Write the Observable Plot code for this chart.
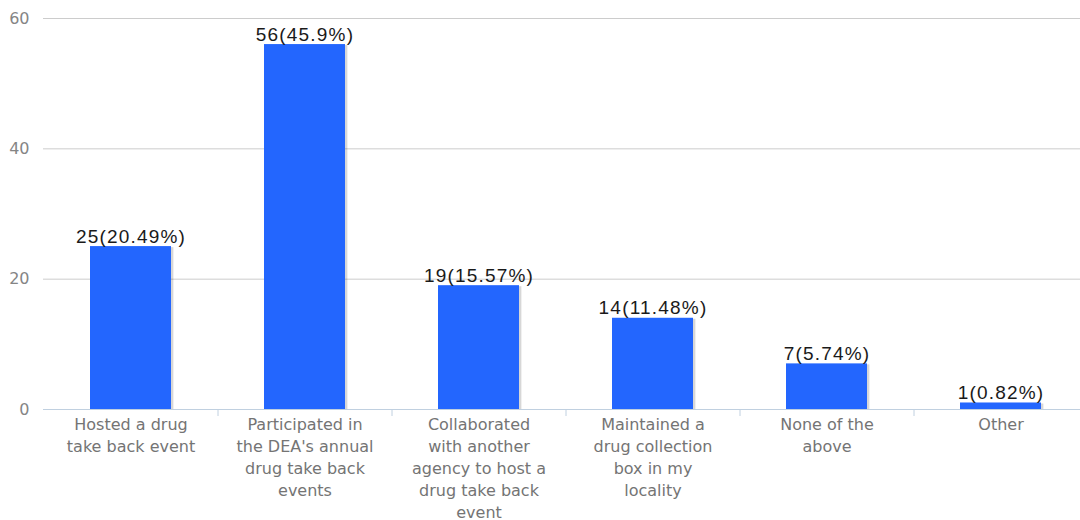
<!DOCTYPE html>
<html>
<head>
<meta charset="utf-8">
<script src="https://cdn.jsdelivr.net/npm/d3@7"></script>
<script src="https://cdn.jsdelivr.net/npm/@observablehq/plot@0.6"></script>
<style>
  html, body { margin: 0; padding: 0; background: #fff; }
  g[aria-description="values"] text { letter-spacing: 1.2px; }
</style>
</head>
<body>
<div id="chart"></div>
<script>
const categories = [
  "Hosted a drug\ntake back event",
  "Participated in\nthe DEA's annual\ndrug take back\nevents",
  "Collaborated\nwith another\nagency to host a\ndrug take back\nevent",
  "Maintained a\ndrug collection\nbox in my\nlocality",
  "None of the\nabove",
  "Other"
];
const counts = [25, 56, 19, 14, 7, 1];
const percents = ["20.49%", "45.9%", "15.57%", "11.48%", "5.74%", "0.82%"];
const yTicks = [0, 20, 40, 60];

const data = categories.map((c, i) => ({category: c, count: counts[i], pct: percents[i]}));

const xRange = [43, 1087];
const halfStep = (xRange[1] - xRange[0]) / categories.length / 2;

const chart = Plot.plot({
  width: 1080,
  height: 520,
  marginLeft: 43,
  marginRight: 0,
  marginTop: 18,
  marginBottom: 111,
  style: {fontFamily: "DejaVu Sans", background: "#fff", color: "#808080"},
  x: {domain: categories, range: xRange, paddingInner: 0.535, paddingOuter: 0.2675, axis: null},
  y: {domain: [0, 60], axis: null},
  marks: [
    Plot.gridY(yTicks.filter(d => d > 0), {stroke: "#cccccc", strokeOpacity: 1}),
    Plot.axisY({ticks: yTicks, tickSize: 0, tickPadding: 14, fontSize: 16, fill: "#858585", label: null}),
    Plot.barY(data, {x: "category", y: "count", fill: "#000", fillOpacity: 0.06, dx: 3, dy: 1}),
    Plot.barY(data, {x: "category", y: "count", fill: "#000", fillOpacity: 0.1, dx: 2, dy: 1}),
    Plot.barY(data, {x: "category", y: "count", fill: "#2366fe"}),
    Plot.ruleY([0], {stroke: "#c0d0e0"}),
    Plot.ruleX(categories.slice(0, -1), {x: d => d, dx: halfStep, y1: 0, y2: 0, insetBottom: -7, stroke: "#c0d0e0"}),
    Plot.text(data, {
      x: "category", frameAnchor: "bottom", text: "category",
      lineAnchor: "top", dy: 5, fontSize: 16, lineHeight: 1.375, fill: "#747474"
    }),
    Plot.text(data, {
      x: "category", y: "count", text: d => `${d.count}(${d.pct})`,
      lineAnchor: "bottom", dy: -4, fontSize: 19,
      fontFamily: "Liberation Sans, Arial, sans-serif", fill: "#1a1a1a",
      ariaDescription: "values"
    })
  ]
});
document.getElementById("chart").appendChild(chart);
</script>
</body>
</html>
